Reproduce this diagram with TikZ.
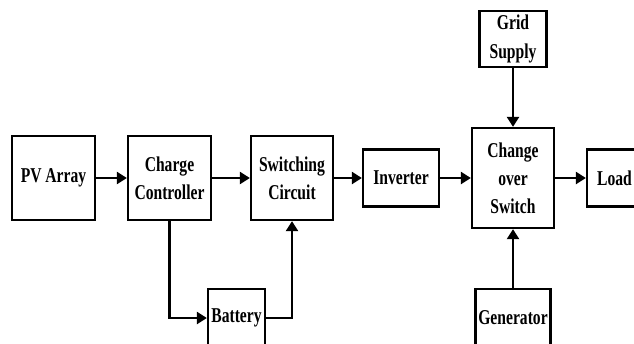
\documentclass[tikz,border=0pt]{standalone}
\usepackage{fontspec}
\setmainfont[FakeStretch=0.74]{Liberation Serif}
\usetikzlibrary{shapes, arrows.meta, positioning, calc}

\begin{document}
\begin{tikzpicture}[
  blk/.style={draw, line width=1.3pt, inner sep=0pt, align=center,
    font=\fontsize{12}{16}\selectfont\bfseries},
  flow/.style={line width=1.3pt, -{Triangle[length=0.2cm, width=0.24cm]}}
]
\useasboundingbox (0,0) rectangle (12.68,6.86);
\clip (0,0) rectangle (12.68,6.86);

% Main chain
\node[blk, minimum width=1.66cm, minimum height=1.68cm] (pv) at (1.07,3.30) {PV Array};
\node[blk, minimum width=1.66cm, minimum height=1.68cm] (cc) at (3.39,3.30) {Charge\\Controller};
\node[blk, minimum width=1.64cm, minimum height=1.68cm] (sw) at (5.84,3.30) {Switching\\Circuit};
\node[blk, minimum width=1.52cm, minimum height=1.14cm] (inv) at (8.02,3.30) {Inverter};
\node[blk, minimum width=1.64cm, minimum height=2.00cm] (cos) at (10.26,3.30) {Change\\over\\Switch};
\node[blk, minimum width=1.10cm, minimum height=1.14cm] (load) at (12.29,3.30) {Load};

% Other sources
\node[blk, minimum width=1.34cm, minimum height=1.12cm] (grid) at (10.26,6.08) {Grid\\Supply};
\node[blk, minimum width=1.50cm, minimum height=1.16cm] (gen) at (10.26,0.50) {Generator};
\node[blk, minimum width=1.14cm, minimum height=1.16cm] (bat) at (4.73,0.50) {Battery};

% Connections
\draw[flow] (pv) -- (cc);
\draw[flow] (cc) -- (sw);
\draw[flow] (sw) -- (inv);
\draw[flow] (inv) -- (cos);
\draw[flow] (cos) -- (load);
\draw[flow] (grid) -- (cos);
\draw[flow] (gen) -- (cos);
\draw[flow] (cc.south) |- (bat.west);
\draw[flow] (bat.east) -| (sw.south);
\end{tikzpicture}
\end{document}
